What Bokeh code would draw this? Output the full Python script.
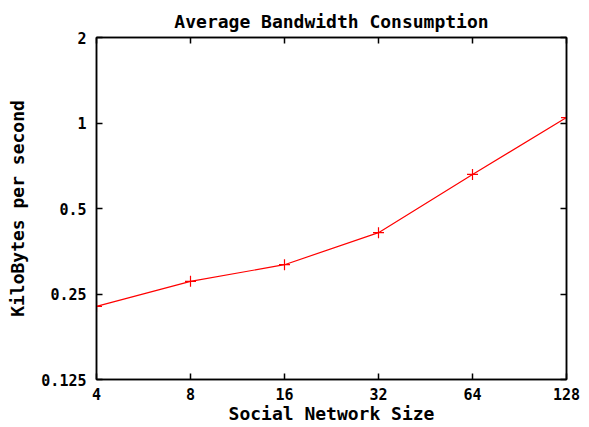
from bokeh.plotting import figure
from bokeh.models import FixedTicker, LogAxis, Range1d
from bokeh.embed import file_html
from bokeh.resources import INLINE

network_size = [4, 8, 16, 32, 64, 128]
bandwidth_kbps = [0.226, 0.277, 0.317, 0.411, 0.659, 1.045]
x_ticks = [4, 8, 16, 32, 64, 128]
y_ticks = [0.125, 0.25, 0.5, 1, 2]
y_tick_labels = ["0.125", "0.25", "0.5", "1", "2"]

FONT = "DejaVu Sans Mono"

p = figure(width=589, height=427, x_axis_type="log", y_axis_type="log",
           x_range=Range1d(4, 128), y_range=Range1d(0.125, 2),
           output_backend="svg", toolbar_location=None,
           min_border_left=96, min_border_right=23, min_border_top=37, min_border_bottom=48,
           title="Average Bandwidth Consumption")

p.line(network_size, bandwidth_kbps, line_color="red", line_width=1.2)
p.scatter(network_size, bandwidth_kbps, marker="cross", size=11, line_color="red", line_width=1.2)

p.title.text_font = FONT
p.title.text_font_size = "18px"
p.title.text_font_style = "bold"
p.title.text_color = "black"
p.title.align = "center"
p.title.offset = 0
p.title.standoff = 11

p.xgrid.visible = False
p.ygrid.visible = False
p.outline_line_color = "black"
p.outline_line_width = 1.5

for ax in (p.xaxis[0], p.yaxis[0]):
    ax.major_tick_in = 6
    ax.major_tick_out = 0
    ax.minor_tick_in = 0
    ax.minor_tick_out = 0
    ax.axis_line_color = "black"
    ax.axis_line_width = 1.5
    ax.major_tick_line_width = 1.5
    ax.major_label_text_font = FONT
    ax.major_label_text_font_size = "15px"
    ax.major_label_text_font_style = "bold"
    ax.major_label_text_color = "black"
    ax.axis_label_text_font = FONT
    ax.axis_label_text_font_size = "18px"
    ax.axis_label_text_font_style = "bold"
    ax.axis_label_text_color = "black"

p.xaxis[0].ticker = FixedTicker(ticks=x_ticks)
p.xaxis[0].major_label_overrides = {t: str(t) for t in x_ticks}
p.xaxis[0].axis_label = "Social Network Size"
p.xaxis[0].major_label_standoff = 8
p.xaxis[0].axis_label_standoff = 0

p.yaxis[0].ticker = FixedTicker(ticks=y_ticks)
p.yaxis[0].major_label_overrides = dict(zip(y_ticks, y_tick_labels))
p.yaxis[0].axis_label = "KiloBytes per second"
p.yaxis[0].major_label_standoff = 10
p.yaxis[0].axis_label_standoff = 10

top = LogAxis(ticker=FixedTicker(ticks=x_ticks),
              major_label_overrides={t: "" for t in x_ticks},
              major_tick_in=6, major_tick_out=0, minor_tick_in=0, minor_tick_out=0,
              axis_line_width=1.5, major_tick_line_width=1.5, major_label_standoff=0)
right = LogAxis(ticker=FixedTicker(ticks=y_ticks),
                major_label_overrides={t: "" for t in y_ticks},
                major_tick_in=6, major_tick_out=0, minor_tick_in=0, minor_tick_out=0,
                axis_line_width=1.5, major_tick_line_width=1.5, major_label_standoff=0)
p.add_layout(top, "above")
p.add_layout(right, "right")

open("out.html", "w").write(file_html(p, INLINE))
